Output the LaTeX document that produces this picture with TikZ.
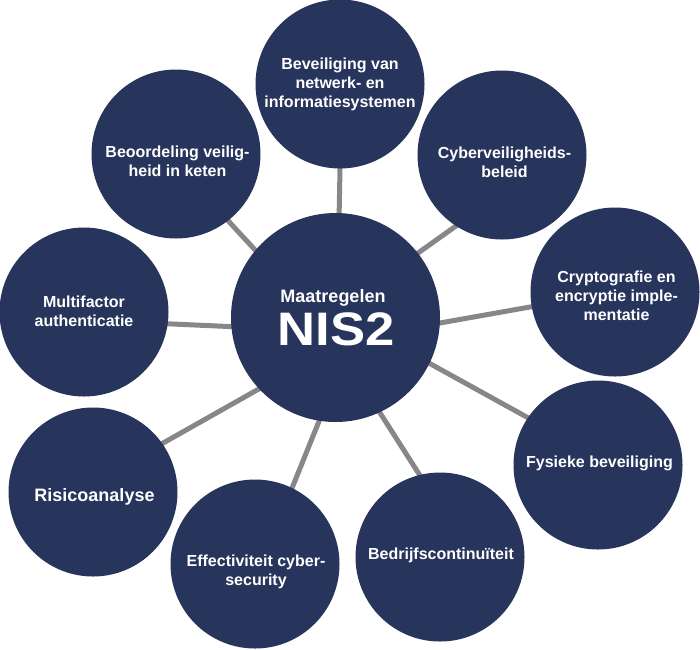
\documentclass[tikz,border=0pt]{standalone}
\usepackage{fontspec}
\setmainfont{Liberation Sans}
\newfontfamily\nisfont{Liberation Sans}[FakeStretch=1.12]
\usetikzlibrary{backgrounds}
\definecolor{navy}{HTML}{27345C}
\definecolor{linkgray}{HTML}{878787}
\begin{document}
\begin{tikzpicture}[x=1pt,y=-1pt,
  bubble/.style={circle,fill=navy,minimum size=169pt,inner sep=0pt},
  hub/.style={circle,fill=navy,minimum size=209pt,inner sep=0pt},
  txt/.style={text=white,font=\bfseries\fontsize{16}{19}\selectfont,align=center,inner sep=0pt},
  link/.style={draw=linkgray,line width=5pt,shorten <=-6pt,shorten >=-6pt}]
\useasboundingbox (0,0) rectangle (700,649);

% hub
\node[hub] (c) at (335.5,317.5) {};
\node[txt,font=\bfseries\fontsize{18}{20}\selectfont] (ct1) at (333,298) {Maatregelen};
\node[txt,font=\nisfont\bfseries\fontsize{47}{50}\selectfont] (ct2) at (336.5,329) {NIS2};

% outer circles
\node[bubble] (t)  at (340,84)  {};
\node[bubble] (b)  at (176,154) {};
\node[bubble] (cy) at (502,155) {};
\node[bubble] (cr) at (615,292) {};
\node[bubble] (f)  at (598,465) {};
\node[bubble] (be) at (440,557) {};
\node[bubble] (e)  at (255,564) {};
\node[bubble] (r)  at (93,492)  {};
\node[bubble] (m)  at (84,312)  {};

% texts
\node[txt] (tt)  at (340,84)    {Beveiliging van\\netwerk- en\\informatiesystemen};
\node[txt] (bt)  at (177.5,161.5) {Beoordeling veilig-\\heid in keten};
\node[txt] (cyt) at (504.5,162) {Cyberveiligheids-\\beleid};
\node[txt] (crt) at (616.5,296) {Cryptografie en\\encryptie imple-\\mentatie};
\node[txt] (ft)  at (599.5,463) {Fysieke beveiliging};
\node[txt] (bet) at (441,555)   {Bedrijfscontinuïteit};
\node[txt] (et)  at (256,571.5) {Effectiviteit cyber-\\security};
\node[txt,font=\bfseries\fontsize{18}{20}\selectfont] (rt)  at (94.5,497)  {Risicoanalyse};
\node[txt] (mt)  at (84,311)    {Multifactor\\authenticatie};

% connectors
\begin{scope}[on background layer]
\draw[link] (c.88)    -- (t.270);
\draw[link] (c.140)   -- (b.308);
\draw[link] (c.38)    -- (cy.237);
\draw[link] (c.-3)    -- (cr.190);
\draw[link] (c.-26)   -- (f.146);
\draw[link] (c.-65)   -- (be.104);
\draw[link] (c.261.6) -- (e.64);
\draw[link] (c.223.4) -- (r.35);
\draw[link] (c.185.7) -- (m.352);
\end{scope}
\end{tikzpicture}
\end{document}
